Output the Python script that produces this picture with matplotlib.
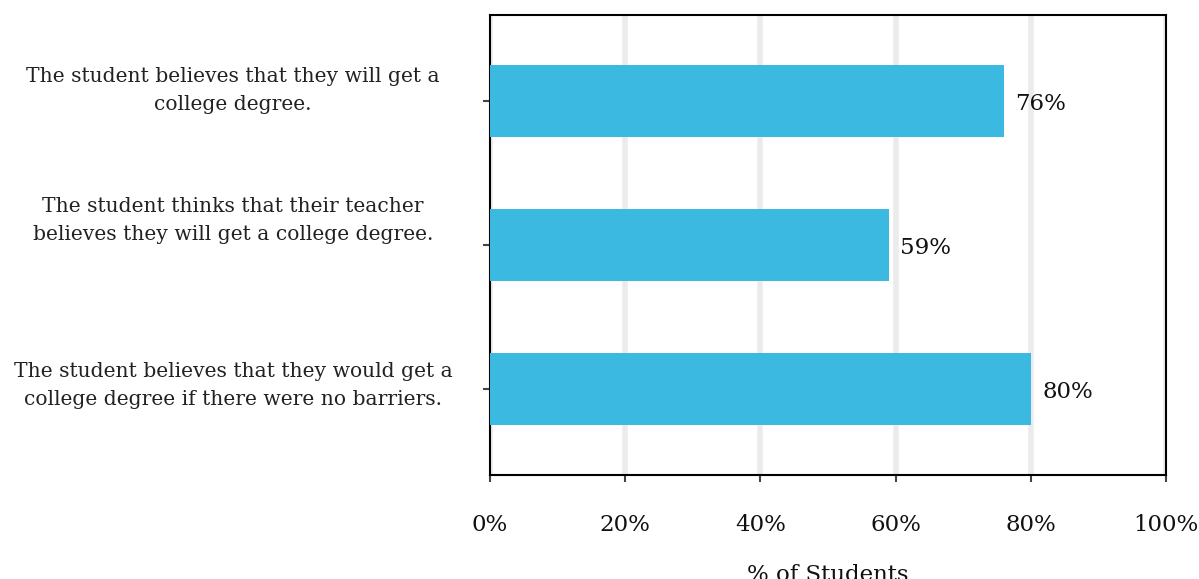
import matplotlib
matplotlib.use("Agg")
import matplotlib.pyplot as plt
from matplotlib.ticker import FuncFormatter
from matplotlib.transforms import blended_transform_factory

categories = [
    "The student believes that they will get a\ncollege degree.",
    "The student thinks that their teacher\nbelieves they will get a college degree.",
    "The student believes that they would get a\ncollege degree if there were no barriers.",
]
values = [76, 59, 80]
x_ticks = [0, 20, 40, 60, 80, 100]

plt.rcParams["font.family"] = ["DejaVu Serif"]

fig = plt.figure(figsize=(11.99, 5.79), dpi=100)
ax = fig.add_axes([490 / 1199, 1 - 475 / 579, 676 / 1199, 460 / 579])

pos = list(range(len(categories)))
ax.barh(pos, values, height=0.5, color="#3bb9e0", zorder=3)

for p, v in zip(pos, values):
    ax.text(v + 1.7, p + 0.02, f"{v}%", va="center", ha="left", fontsize=16.5, color="#111111")

ax.set_xlim(0, 100)
ax.set_ylim(2.6, -0.6)
ax.set_xticks(x_ticks)
ax.xaxis.set_major_formatter(FuncFormatter(lambda v, _: f"{v:.0f}%"))
ax.set_yticks(pos)
ax.set_yticklabels([])

# category labels, centred in the left margin
label_tf = blended_transform_factory(fig.transFigure, ax.transData)
label_shift = [8, 18, 2]  # points upward from each tick
for p, text, dy in zip(pos, categories, label_shift):
    ax.annotate(text, xy=(233 / 1199, p), xycoords=label_tf,
                xytext=(0, dy), textcoords="offset points",
                ha="center", va="center", multialignment="center",
                fontsize=14.6, color="#222222", linespacing=1.6,
                annotation_clip=False)

ax.grid(axis="x", color="#ebebeb", linewidth=4, zorder=0)
for s in ax.spines.values():
    s.set_linewidth(1.5)
    s.set_color("black")

ax.tick_params(axis="x", length=5, width=1.5, color="#444444", pad=23, labelsize=16.5, labelcolor="#111111")
ax.tick_params(axis="y", length=5, width=1.5, color="#444444")

ax.set_xlabel("% of Students", fontsize=16.5, labelpad=20, color="#111111")

fig.savefig("out.png", dpi=100)
